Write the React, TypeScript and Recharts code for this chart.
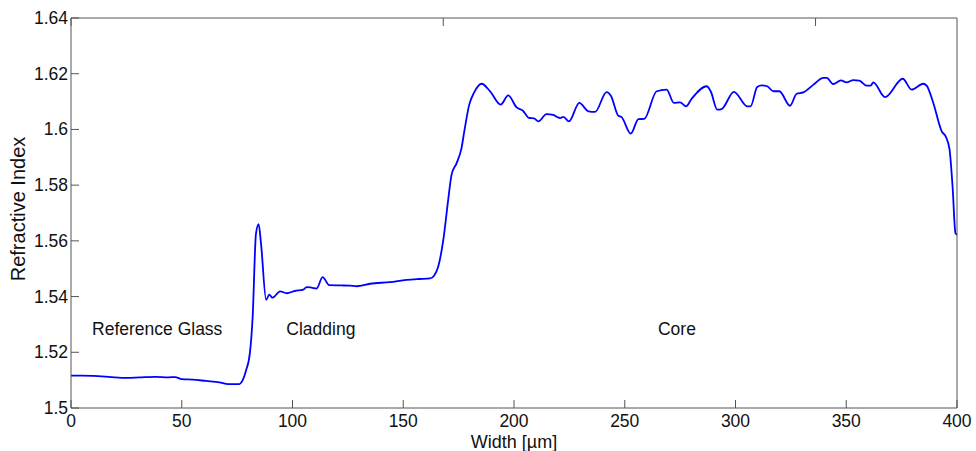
import React from "react";
import {
  LineChart,
  Line,
  XAxis,
  YAxis,
  ReferenceDot,
} from "recharts";

// profile: width in µm, refractive index
const widthUm = [
  0, 5, 10, 17, 25, 31, 38, 44, 47, 50, 55, 61, 67, 71, 76, 77.5, 79, 80.8, 82,
  83.5, 84.7, 85.8, 88.1, 89.5, 91, 94.4, 97.4, 101, 104.9, 106.4, 108.6, 110.9,
  113.6, 116.6, 122, 126, 129, 135, 144, 151.5, 157, 162.1, 163.9, 165.8, 168.1,
  170.3, 171.8, 174.1, 176.3, 177.5, 179.8, 181.9, 185.4, 189.2, 194, 197.4,
  201.2, 203.9, 206.9, 209, 211, 214.7, 217.7, 220.8, 222.3, 224.8, 229.5,
  233.6, 236.6, 241.8, 243.8, 247.1, 248.5, 252.7, 256.2, 258.8, 264.4, 268.9,
  272.2, 275, 277.7, 280.2, 287, 288.8, 291.8, 293.7, 299.3, 305.3, 306.8,
  309.8, 311.8, 314.3, 317.1, 319.8, 324.6, 327.6, 330.6, 335.1, 339.7, 341.2,
  344.1, 347.6, 350.1, 353.2, 355.9, 359.2, 361, 362.2, 367.5, 375.5, 379.5,
  384.8, 386.3, 389.3, 393.1, 395, 396.6, 398, 399.3, 400,
];

const refractiveIndex = [
  1.5116, 1.5116, 1.5115, 1.5112, 1.5108, 1.511, 1.5112, 1.511, 1.5111, 1.5104,
  1.5102, 1.5097, 1.5092, 1.5086, 1.5086, 1.51, 1.5134, 1.52, 1.5325, 1.5625,
  1.566, 1.5589, 1.5388, 1.5407, 1.5396, 1.5419, 1.5412, 1.542, 1.5425, 1.5434,
  1.5432, 1.5429, 1.547, 1.5441, 1.544, 1.5439, 1.5437, 1.5446, 1.5452, 1.546,
  1.5463, 1.5465, 1.5475, 1.5508, 1.5604, 1.5748, 1.5837, 1.5879, 1.5933,
  1.599, 1.6089, 1.6131, 1.6164, 1.6137, 1.6089, 1.6122, 1.6079, 1.6068,
  1.6041, 1.604, 1.6029, 1.6055, 1.6052, 1.6041, 1.6045, 1.6029, 1.6095,
  1.6065, 1.6063, 1.6134, 1.612, 1.6049, 1.6045, 1.5985, 1.6037, 1.6038,
  1.6137, 1.6143, 1.6095, 1.6097, 1.6083, 1.611, 1.6155, 1.6137, 1.6071,
  1.6073, 1.6135, 1.6083, 1.6083, 1.6152, 1.6158, 1.6155, 1.6137, 1.6137,
  1.6085, 1.6128, 1.6133, 1.616, 1.6185, 1.6185, 1.6163, 1.6176, 1.6169,
  1.6177, 1.6175, 1.6157, 1.6157, 1.6169, 1.6116, 1.6182, 1.6143, 1.6164,
  1.6157, 1.6095, 1.5993, 1.5973, 1.593, 1.5795, 1.5628, 1.5622,
];

const xTicks = [0, 50, 100, 150, 200, 250, 300, 350, 400];
const yTicks = [1.5, 1.52, 1.54, 1.56, 1.58, 1.6, 1.62, 1.64];

// region names and where they sit (data coords)
const regionNames = ["Reference Glass", "Cladding", "Core"];
const regionX = [9.5, 97.2, 265];
const regionY = [1.5284, 1.5284, 1.5284];

const data = widthUm.map((w, i) => ({ w, n: refractiveIndex[i] }));

const W = 976;
const H = 451;
const PLOT = { left: 71, right: 957, top: 18, bottom: 408 };
const TICK = 8;
const AXIS = "#555";
const TEXT = "#111";
const FONT = "Liberation Sans, Arial, sans-serif";
const FS = 17.5;

const fmt = (v: number) => String(Number(v.toFixed(2)));

const LeftTick = (props: any) => {
  const { y, payload } = props;
  return (
    <g>
      <line x1={PLOT.left} x2={PLOT.left + TICK} y1={y} y2={y} stroke={AXIS} />
      <text
        x={PLOT.left - 3}
        y={y}
        textAnchor="end"
        dominantBaseline="central"
        fill={TEXT}
        fontSize={FS}
        fontFamily={FONT}
      >
        {fmt(payload.value)}
      </text>
    </g>
  );
};

const RightTick = (props: any) => (
  <line
    x1={PLOT.right - TICK}
    x2={PLOT.right}
    y1={props.y}
    y2={props.y}
    stroke={AXIS}
  />
);

const BottomTick = (props: any) => {
  const { x, payload } = props;
  return (
    <g>
      <line x1={x} x2={x} y1={PLOT.bottom} y2={PLOT.bottom - TICK} stroke={AXIS} />
      <text
        x={x}
        y={PLOT.bottom + 13}
        textAnchor="middle"
        dominantBaseline="central"
        fill={TEXT}
        fontSize={FS}
        fontFamily={FONT}
      >
        {payload.value}
      </text>
    </g>
  );
};

const TopTick = (props: any) => (
  <line
    x1={props.x}
    x2={props.x}
    y1={PLOT.top}
    y2={PLOT.top + TICK}
    stroke={AXIS}
  />
);

export default function App() {
  return (
    <div style={{ position: "absolute", left: 0, top: 0, background: "#fff" }}>
      <LineChart
        width={W}
        height={H}
        data={data}
        margin={{ top: 0, right: 0, bottom: 0, left: 0 }}
      >
        <XAxis
          dataKey="w"
          type="number"
          domain={[0, 400]}
          ticks={xTicks}
          height={H - PLOT.bottom}
          stroke={AXIS}
          tickLine={false}
          tick={<BottomTick />}
          interval={0}
          label={{
            value: "Width [µm]",
            position: "insideBottom",
            offset: 3,
            fill: TEXT,
            fontSize: 18,
            fontFamily: FONT,
          }}
        />
        <XAxis
          xAxisId="top"
          orientation="top"
          type="number"
          domain={[0, 400]}
          ticks={xTicks}
          height={PLOT.top}
          stroke={AXIS}
          tickLine={false}
          tick={<TopTick />}
          interval={0}
        />
        <YAxis
          type="number"
          domain={[1.5, 1.64]}
          ticks={yTicks}
          width={PLOT.left}
          stroke={AXIS}
          tickLine={false}
          tick={<LeftTick />}
          interval={0}
          label={{
            value: "Refractive Index",
            angle: -90,
            position: "insideLeft",
            offset: 18,
            dy: -4,
            fill: TEXT,
            fontSize: 20,
            fontFamily: FONT,
            style: { textAnchor: "middle" },
          }}
        />
        <YAxis
          yAxisId="right"
          orientation="right"
          type="number"
          domain={[1.5, 1.64]}
          ticks={yTicks}
          width={W - PLOT.right}
          stroke={AXIS}
          tickLine={false}
          tick={<RightTick />}
          interval={0}
        />
        <Line
          type="monotone"
          dataKey="n"
          stroke="#0000ff"
          strokeWidth={1.8}
          dot={false}
          isAnimationActive={false}
        />
        {regionNames.map((name, i) => (
          <ReferenceDot
            key={name}
            x={regionX[i]}
            y={regionY[i]}
            r={0}
            fill="none"
            stroke="none"
            label={{
              value: name,
              position: "right",
              offset: 0,
              fill: TEXT,
              fontSize: FS,
              fontFamily: FONT,
            }}
          />
        ))}
      </LineChart>
    </div>
  );
}
